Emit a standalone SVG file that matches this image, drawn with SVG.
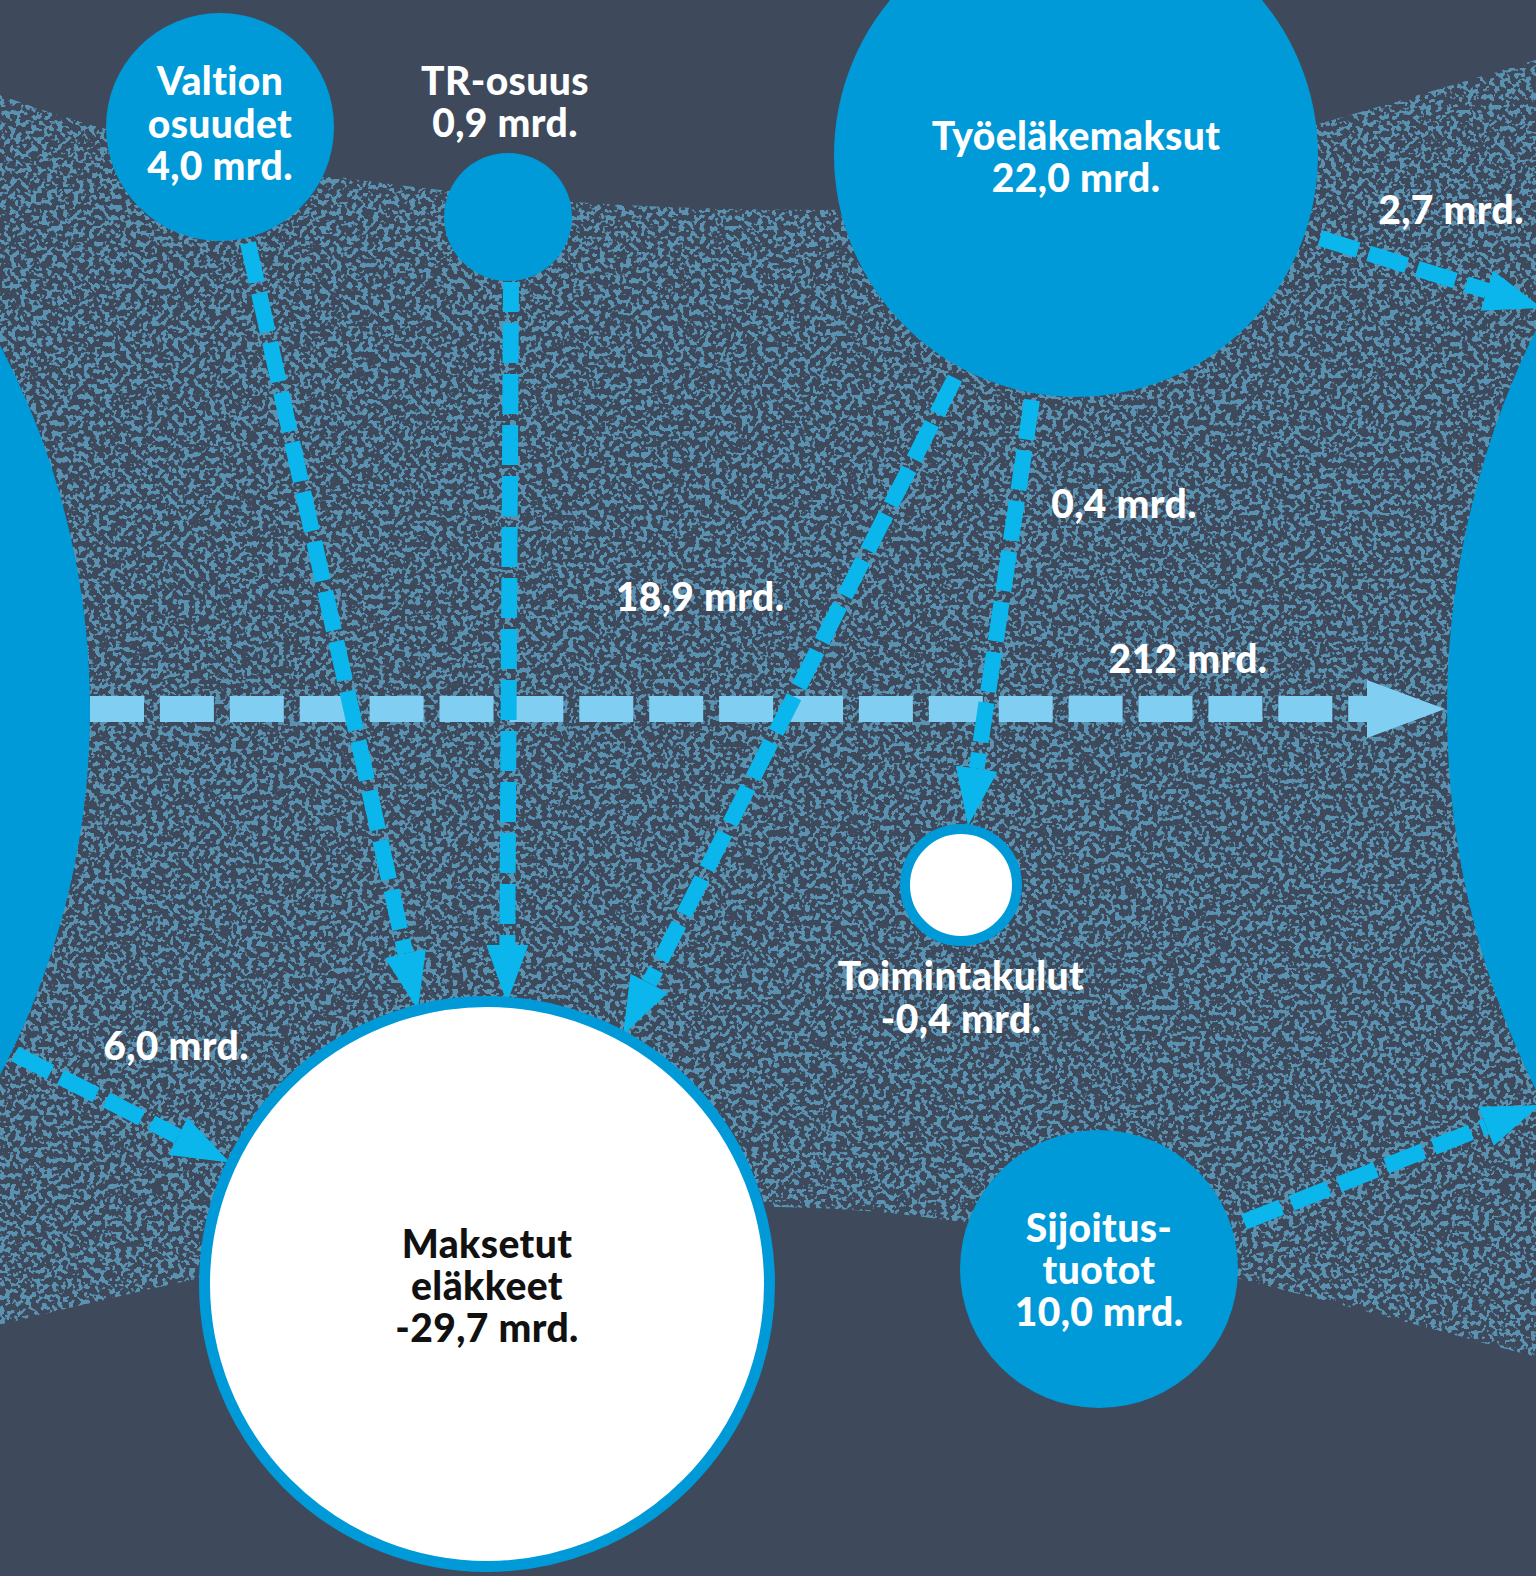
<svg xmlns="http://www.w3.org/2000/svg" width="1536" height="1576" viewBox="0 0 1536 1576">
<defs>
<style>
.lbl{font-family:Lato,"Open Sans","Liberation Sans",sans-serif;font-weight:900;font-size:39px;letter-spacing:0.4px;fill:#ffffff;text-anchor:middle}
.dark{fill:#111111}
.blue{fill:#009ad9}
.flow{fill:none;stroke:#0ab6ec;stroke-width:16;stroke-dasharray:40 11}
.main{fill:none;stroke:#80cef2;stroke-width:26;stroke-dasharray:54 15.9}
</style>
<clipPath id="region">
<path d="M0,95 C200,170 500,210 820,210 C1050,210 1300,130 1536,60 L1536,1357 C1250,1280 1000,1209 780,1207 C550,1205 300,1250 0,1325 Z"/>
</clipPath>
<filter id="speckle" filterUnits="userSpaceOnUse" x="0" y="0" width="1536" height="1576" color-interpolation-filters="sRGB">
<feTurbulence type="fractalNoise" baseFrequency="0.19" numOctaves="2" seed="7" result="n"/>
<feColorMatrix in="n" type="matrix" values="0 0 0 0 0.353  0 0 0 0 0.573  0 0 0 0 0.698  1 0 0 0 0"/>
<feComponentTransfer><feFuncA type="linear" slope="22" intercept="-11.4"/></feComponentTransfer>
</filter>
<marker id="head" viewBox="0 0 58 42" refX="0" refY="21" markerWidth="58" markerHeight="42" markerUnits="userSpaceOnUse" orient="auto">
<path d="M0,0 L58,21 L0,42 Z" fill="#0ab6ec"/>
</marker>
</defs>

<g id="background">
<rect width="1536" height="1576" fill="#3e4a5b"/>
<g clip-path="url(#region)"><rect width="1536" height="1576" fill="#000" filter="url(#speckle)"/></g>
</g>

<g id="node-left"><circle class="blue" cx="-695" cy="710" r="785"/></g>
<g id="node-right"><circle class="blue" cx="2303" cy="710" r="856"/></g>

<g id="connectors">
<line class="main" x1="90" y1="709" x2="1367" y2="709"/>
<polygon points="1367,680 1445,709 1367,738" fill="#80cef2"/>
<line class="flow" x1="248" y1="243" x2="405.4" y2="953.4" marker-end="url(#head)"/>
<line class="flow" x1="511" y1="282" x2="507.3" y2="945" marker-end="url(#head)" stroke-dashoffset="10"/>
<line class="flow" x1="955" y1="378" x2="649.2" y2="983.2" marker-end="url(#head)"/>
<line class="flow" x1="1032" y1="400" x2="976.6" y2="768.6" marker-end="url(#head)"/>
<line class="flow" x1="1320" y1="238" x2="1486.7" y2="290.6" marker-end="url(#head)"/>
<line class="flow" x1="15" y1="1054" x2="178" y2="1136.3" marker-end="url(#head)"/>
<line class="flow" x1="1244" y1="1222" x2="1486" y2="1126.3" marker-end="url(#head)"/>
</g>

<g id="node-valtion">
<circle class="blue" cx="220" cy="127" r="114"/>
<text class="lbl" x="220" y="95">Valtion</text>
<text class="lbl" x="220" y="138">osuudet</text>
<text class="lbl" x="220" y="180">4,0 mrd.</text>
</g>

<g id="node-tr">
<circle class="blue" cx="508" cy="217" r="64"/>
<text class="lbl" x="505" y="95">TR-osuus</text>
<text class="lbl" x="505" y="137">0,9 mrd.</text>
</g>

<g id="node-tyoelake">
<circle class="blue" cx="1076" cy="155" r="242"/>
<text class="lbl" x="1076" y="150">Työeläkemaksut</text>
<text class="lbl" x="1076" y="192">22,0 mrd.</text>
</g>

<g id="node-toimintakulut">
<circle cx="961" cy="885" r="56" fill="#ffffff" stroke="#009ad9" stroke-width="10"/>
<text class="lbl" x="961" y="990">Toimintakulut</text>
<text class="lbl" x="961" y="1033">-0,4 mrd.</text>
</g>

<g id="node-maksetut">
<circle cx="487" cy="1284" r="282.5" fill="#ffffff" stroke="#009ad9" stroke-width="11"/>
<text class="lbl dark" x="487" y="1258">Maksetut</text>
<text class="lbl dark" x="487" y="1300">eläkkeet</text>
<text class="lbl dark" x="487" y="1342">-29,7 mrd.</text>
</g>

<g id="node-sijoitus">
<circle class="blue" cx="1099" cy="1269" r="139"/>
<text class="lbl" x="1099" y="1242">Sijoitus-</text>
<text class="lbl" x="1099" y="1284">tuotot</text>
<text class="lbl" x="1099" y="1326">10,0 mrd.</text>
</g>

<g id="labels">
<text class="lbl" x="1451" y="224">2,7 mrd.</text>
<text class="lbl" x="1124" y="518">0,4 mrd.</text>
<text class="lbl" x="700" y="611">18,9 mrd.</text>
<text class="lbl" x="1188" y="673">212 mrd.</text>
<text class="lbl" x="176" y="1060">6,0 mrd.</text>
</g>
</svg>
